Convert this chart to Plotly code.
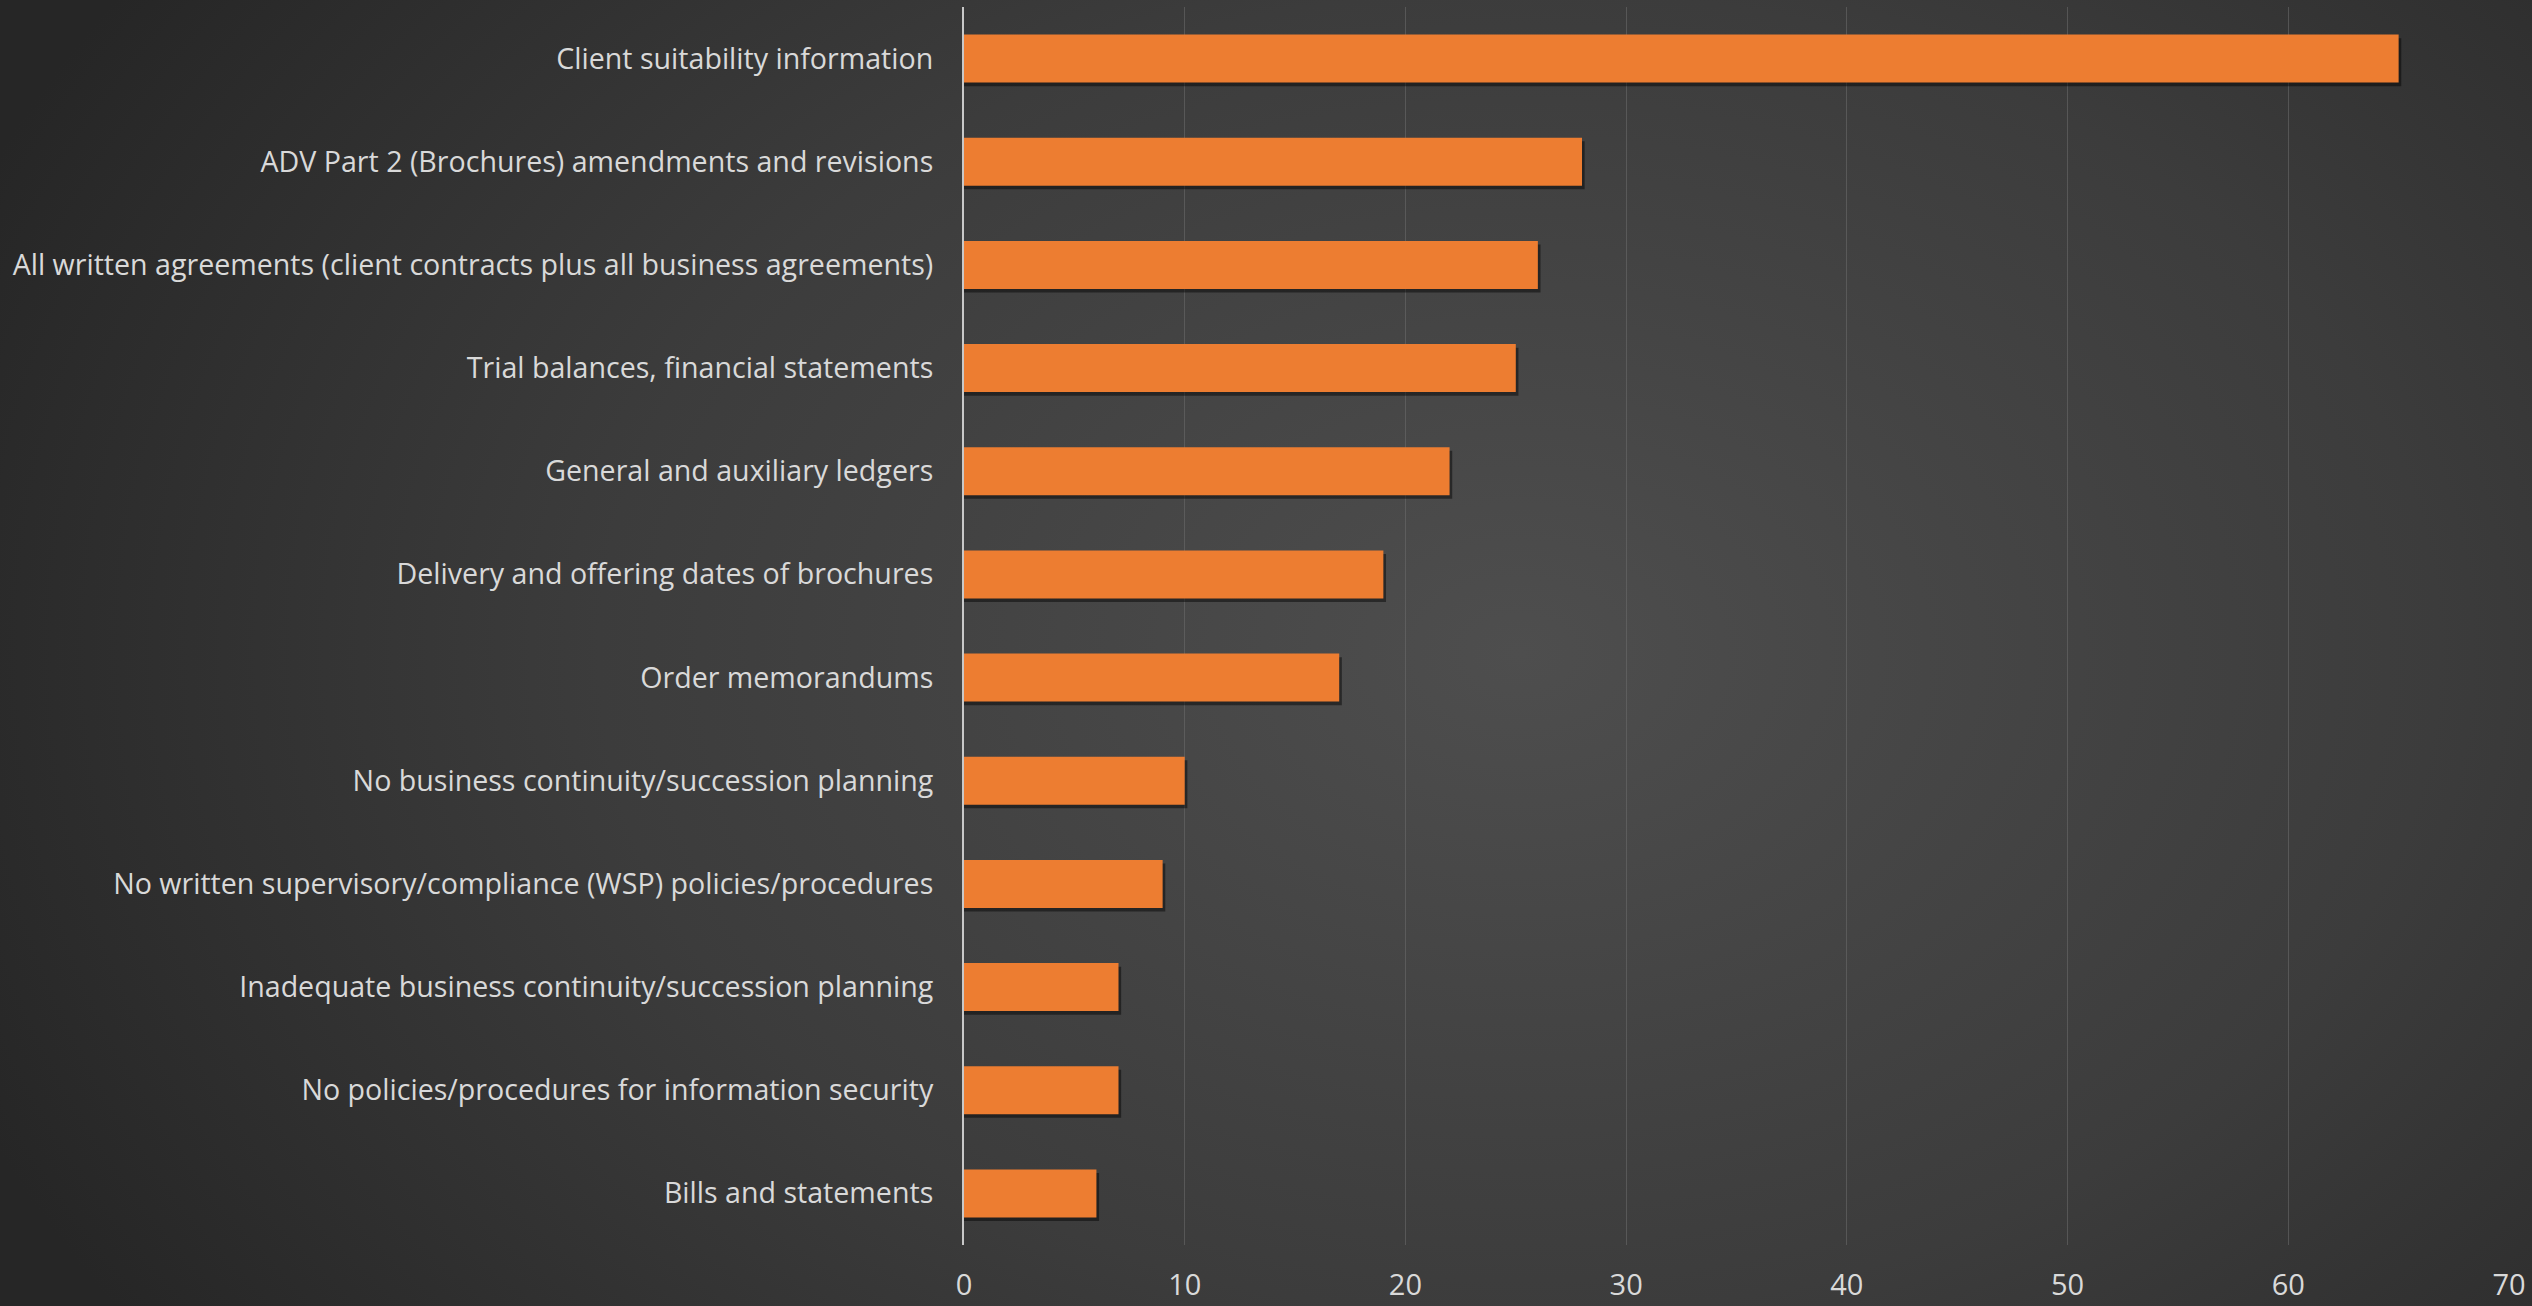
import plotly.graph_objects as go
import urllib.parse

categories = [
    "Client suitability information",
    "ADV Part 2 (Brochures) amendments and revisions",
    "All written agreements (client contracts plus all business agreements)",
    "Trial balances, financial statements",
    "General and auxiliary ledgers",
    "Delivery and offering dates of brochures",
    "Order memorandums",
    "No business continuity/succession planning",
    "No written supervisory/compliance (WSP) policies/procedures",
    "Inadequate business continuity/succession planning",
    "No policies/procedures for information security",
    "Bills and statements",
]
values = [65, 28, 26, 25, 22, 19, 17, 10, 9, 7, 7, 6]
x_ticks = [0, 10, 20, 30, 40, 50, 60, 70]

W, H = 2532, 1306
ML, MR, MT, MB = 964, 23, 7, 61
PW, PH = W - ML - MR, H - MT - MB

BAR_W = 0.465
svg = (
    "<svg xmlns='http://www.w3.org/2000/svg' width='2532' height='1306' viewBox='0 0 2532 1306' preserveAspectRatio='none'>"
    "<defs><radialGradient id='g' cx='0.6' cy='0.5' r='0.66' gradientTransform='translate(0.6 0.5) scale(1 1.4) translate(-0.6 -0.5)'>"
    "<stop offset='0' stop-color='#4e4e4e'/>"
    "<stop offset='0.55' stop-color='#3c3c3c'/>"
    "<stop offset='1' stop-color='#262626'/>"
    "</radialGradient></defs>"
    "<rect width='2532' height='1306' fill='url(#g)'/></svg>"
)
src = "data:image/svg+xml;charset=utf-8," + urllib.parse.quote(svg)

fig = go.Figure()
# soft drop shadow
fig.add_trace(go.Bar(
    y=categories, x=[v + 0.12 for v in values], orientation="h",
    width=BAR_W, offset=-BAR_W / 2 + 0.035,
    marker=dict(color="rgba(0,0,0,0.45)", line=dict(width=0)),
    hoverinfo="skip", showlegend=False,
))
fig.add_trace(go.Bar(
    y=categories, x=values, orientation="h",
    width=BAR_W,
    marker=dict(color="#ed7d31", line=dict(width=0)),
    showlegend=False,
))

fig.update_layout(
    width=W, height=H,
    margin=dict(l=ML, r=MR, t=MT, b=MB, pad=0, autoexpand=False),
    barmode="overlay",
    paper_bgcolor="#2e2e2e",
    plot_bgcolor="rgba(0,0,0,0)",
    font=dict(family="Open Sans", size=28.6, color="#d9d9d9"),
    images=[dict(
        source=src, xref="paper", yref="paper",
        x=-ML / PW, y=1 + MT / PH, sizex=W / PW, sizey=H / PH,
        xanchor="left", yanchor="top", sizing="stretch", layer="below",
    )],
    xaxis=dict(
        range=[0, 70], tickvals=x_ticks, ticktext=[str(t) for t in x_ticks],
        showgrid=True, gridcolor="rgba(110,110,110,0.55)", gridwidth=1,
        zeroline=False, showline=False, ticks="", automargin=False,
        ticklabelstandoff=20,
        tickfont=dict(size=29, color="#d9d9d9"),
    ),
    yaxis=dict(
        autorange="reversed", showgrid=False, zeroline=False,
        showline=True, linecolor="#c8c8c8", linewidth=2, automargin=False,
        ticks="", ticklabelstandoff=23,
        tickfont=dict(size=28.6, color="#d9d9d9"),
    ),
)

fig.write_html(
    "out.html",
    config={"displayModeBar": False},
    post_script="document.body.style.margin='0';document.body.style.padding='0';"
                "document.body.style.background='#2a2a2a';document.body.style.overflow='hidden';",
)
